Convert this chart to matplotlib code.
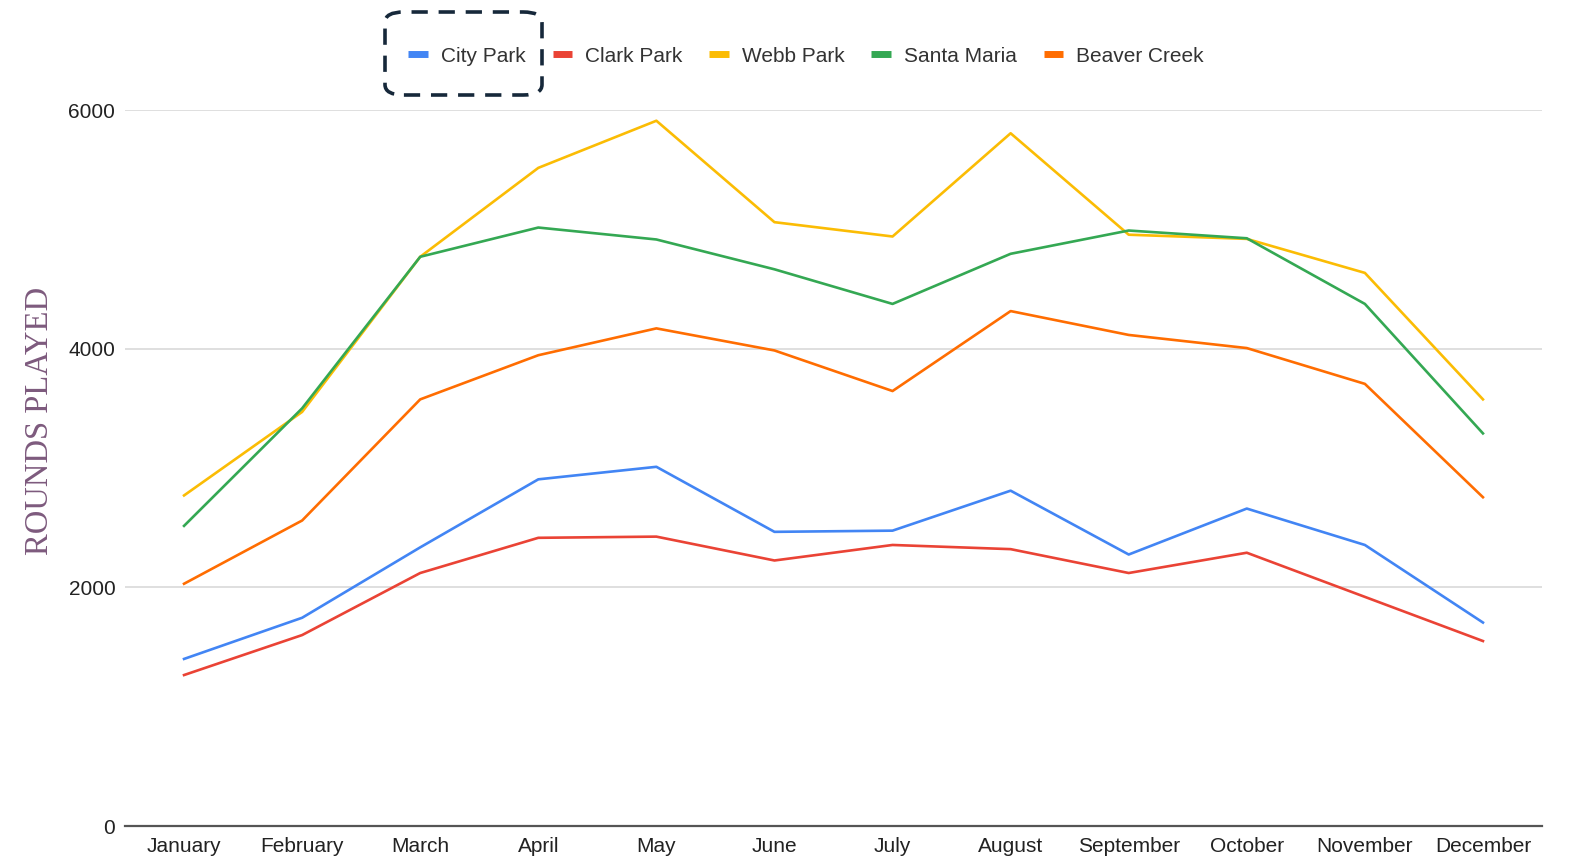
import matplotlib
matplotlib.use("Agg")
import matplotlib.pyplot as plt
from matplotlib.lines import Line2D
from matplotlib.patches import FancyBboxPatch

months = ["January", "February", "March", "April", "May", "June", "July",
          "August", "September", "October", "November", "December"]

city_park = [1400, 1745, 2335, 2905, 3010, 2465, 2475, 2810, 2275, 2660, 2355, 1705]
clark_park = [1265, 1600, 2120, 2415, 2425, 2225, 2355, 2320, 2120, 2290, 1920, 1550]
webb_park = [2770, 3470, 4770, 5515, 5910, 5060, 4940, 5805, 4955, 4920, 4635, 3575]
santa_maria = [2515, 3500, 4770, 5015, 4915, 4665, 4375, 4795, 4990, 4925, 4375, 3290]
beaver_creek = [2030, 2560, 3575, 3945, 4170, 3985, 3645, 4315, 4115, 4005, 3705, 2755]

series = [
    ("City Park", city_park, "#4285F4"),
    ("Clark Park", clark_park, "#EA4335"),
    ("Webb Park", webb_park, "#FBBC04"),
    ("Santa Maria", santa_maria, "#34A853"),
    ("Beaver Creek", beaver_creek, "#FF6D01"),
]
y_ticks = [0, 2000, 4000, 6000]

plt.rcParams["font.family"] = ["Liberation Sans", "DejaVu Sans"]

W, H = 1575, 861
fig = plt.figure(figsize=(W / 100, H / 100), dpi=100)
ax = fig.add_axes([125 / W, 1 - 826 / H, (1542 - 125) / W, (826 - 110) / H])

x = list(range(len(months)))
for name, vals, color in series:
    ax.plot(x, vals, color=color, lw=1.9, label=name, solid_joinstyle="round")

ax.set_xlim(-0.5, 11.5)
ax.set_ylim(0, 6000)
ax.set_yticks(y_ticks)
ax.set_yticklabels([str(v) for v in y_ticks])
ax.set_xticks(x)
ax.set_xticklabels(months)

for v in y_ticks[1:]:
    ax.axhline(v, color="#dcdcdc", lw=1.3, zorder=0)
ax.axhline(0, color="#555555", lw=1.6, zorder=3, clip_on=False)

for s in ax.spines.values():
    s.set_visible(False)
ax.tick_params(axis="both", length=0, labelsize=15, colors="#222222")
ax.tick_params(axis="y", pad=7)
ax.tick_params(axis="x", pad=8)

fig.text(40 / W, 1 - 421 / H, "ROUNDS PLAYED", rotation=90,
         family="Liberation Serif", fontsize=23.5, color="#7d5a7d",
         ha="center", va="center")

handles = [Line2D([], [], color=c, lw=5, solid_capstyle="butt") for _, _, c in series]
leg = fig.legend(handles, [n for n, _, _ in series], loc="center",
                 bbox_to_anchor=(806 / W, 1 - 56 / H), ncol=5, frameon=False,
                 fontsize=15, handlelength=0.95, handletextpad=0.6,
                 columnspacing=1.3, labelcolor="#333333")

box = FancyBboxPatch((385 / W, 1 - 95 / H), (542 - 385) / W, (95 - 12) / H,
                     boxstyle="round,pad=0,rounding_size=0.012",
                     transform=fig.transFigure, fill=False, edgecolor="#16283a",
                     lw=2.6, linestyle=(0, (4.5, 3)))
fig.patches.append(box)

fig.savefig("out.png", dpi=100, facecolor="white")
